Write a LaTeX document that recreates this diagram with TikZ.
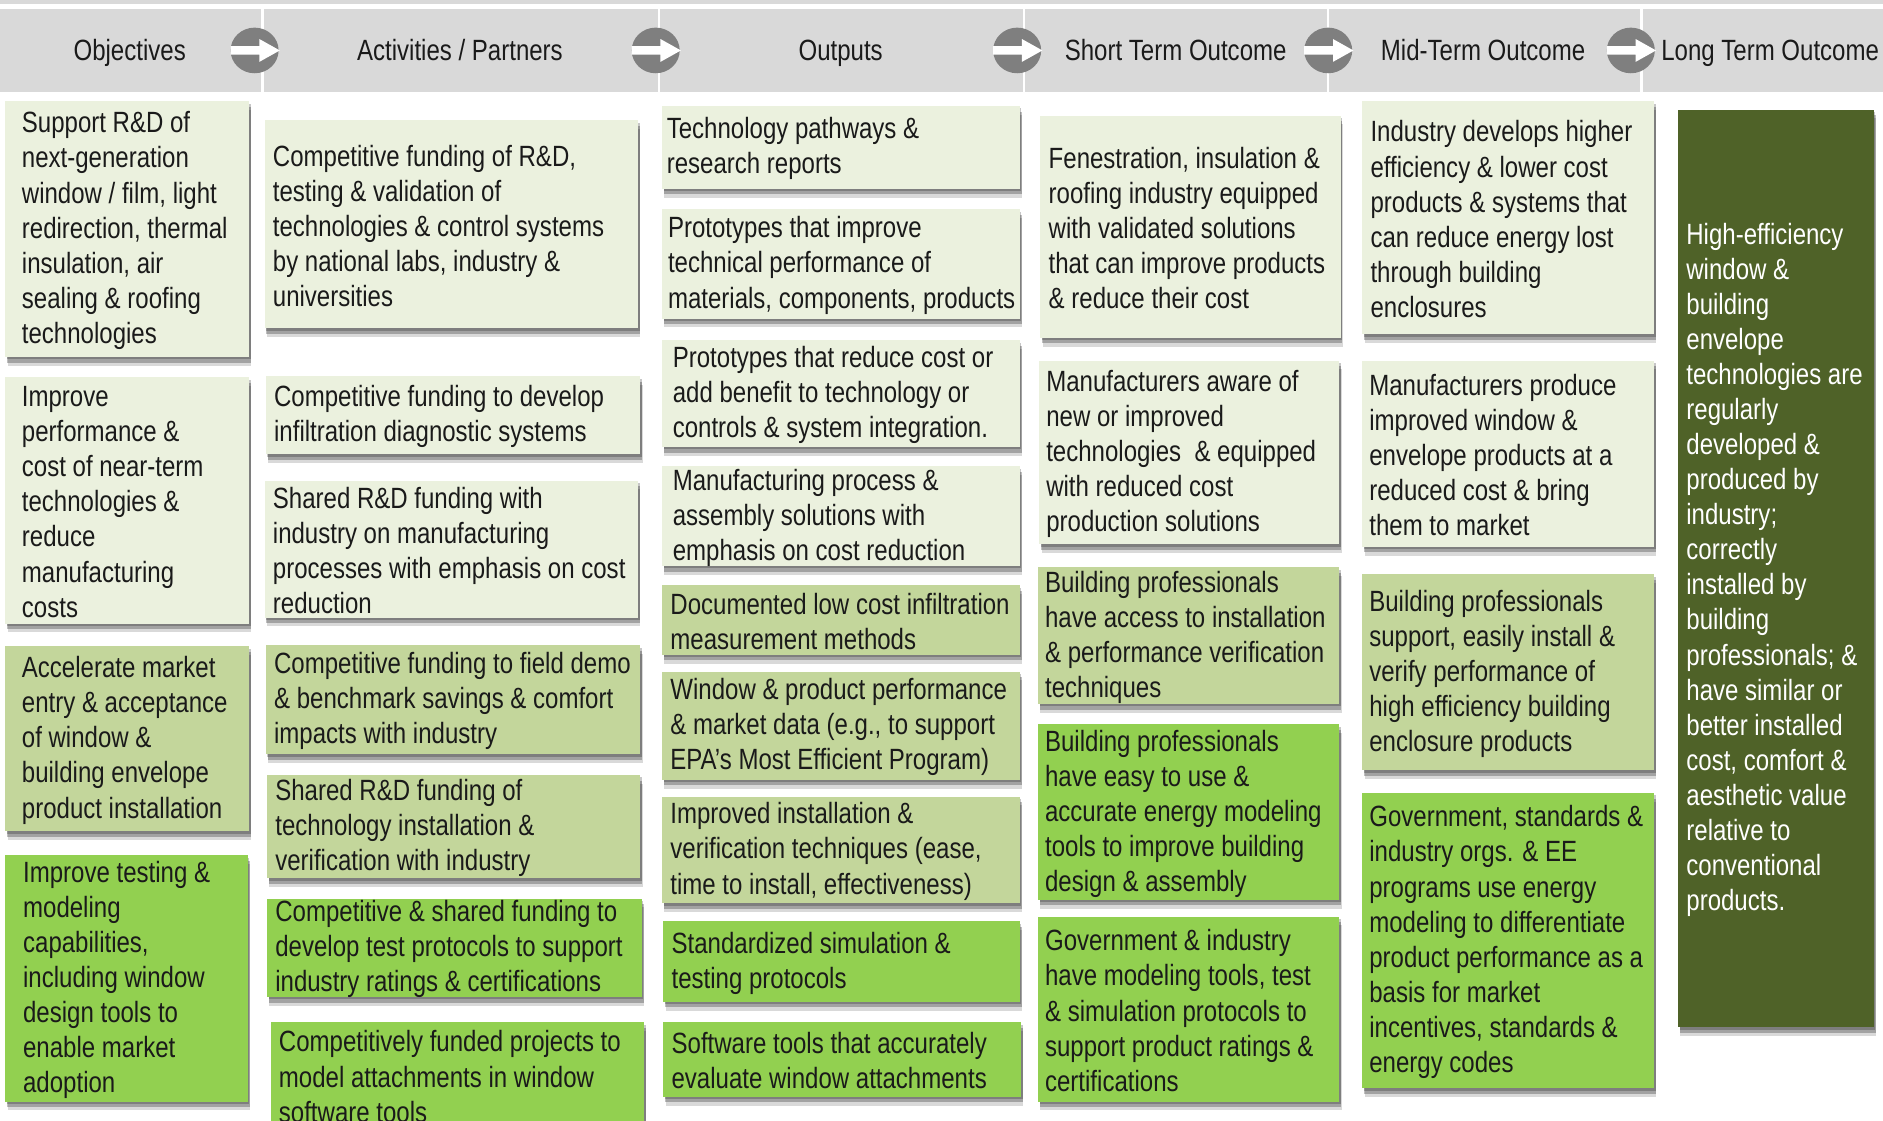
\documentclass[tikz,border=0pt]{standalone}
\usepackage{fontspec}
\setmainfont{Liberation Sans}[FakeStretch=0.82]
\usetikzlibrary{shadows,shapes.geometric}

\definecolor{hdrgray}{HTML}{D9D9D9}
\definecolor{circgray}{HTML}{7F7F7F}
\definecolor{lite}{HTML}{EBF1DE}
\definecolor{midg}{HTML}{C3D69B}
\definecolor{brig}{HTML}{92D050}
\definecolor{darkolive}{HTML}{4F6228}
\definecolor{ink}{HTML}{1A1A1A}

\tikzset{
  card/.style={fill=#1, draw=none, inner sep=0pt, anchor=north west,
    drop shadow={shadow xshift=1pt, shadow yshift=-1.5pt, opacity=.22, fill=black},
    drop shadow={shadow xshift=1.2pt, shadow yshift=-3.5pt, opacity=.25, fill=black},
    drop shadow={shadow xshift=1.5pt, shadow yshift=-5.5pt, opacity=.15, fill=black}},
  cardtext/.style={anchor=west, align=left, inner sep=0pt, text=ink,
    font=\fontsize{18.3}{21.9}\selectfont},
  headcell/.style={fill=hdrgray, draw=none, inner sep=0pt, anchor=north west},
  headtext/.style={inner sep=0pt, text=ink, font=\fontsize{18.3}{21.9}\selectfont},
  flowdot/.style={ellipse, fill=circgray, draw=none, inner sep=0pt,
    minimum width=40*0.75pt, minimum height=38*0.75pt},
}

% [text options]{name}{x1}{y1}{x2}{y2}{fill}{left pad}{lines}
\newcommand\card[9][]{%
  \node[card=#7, minimum width={(#5-#3)*0.75pt}, minimum height={(#6-#4)*0.75pt}] (#2) at (#3,#4) {};
  \node[cardtext,#1] (#2-t) at ([xshift={#8*0.75pt}, yshift=-0.9pt]#2.west) {#9};
}

\begin{document}
\begin{tikzpicture}[x=0.75pt, y=-0.75pt]
\useasboundingbox (0,0) rectangle (1568,933);
\fill[white] (0,0) rectangle (1568,933);

% header strip and column heads
\fill[hdrgray] (0,0) rectangle (1568,3.5);
\node[headcell, minimum width=217*0.75pt, minimum height=69*0.75pt] (h1) at (0,7) {};
\node[headcell, minimum width=328*0.75pt, minimum height=69*0.75pt] (h2) at (219.5,7) {};
\node[headcell, minimum width=302*0.75pt, minimum height=69*0.75pt] (h3) at (549.5,7) {};
\node[headcell, minimum width=251*0.75pt, minimum height=69*0.75pt] (h4) at (853.5,7) {};
\node[headcell, minimum width=259*0.75pt, minimum height=69*0.75pt] (h5) at (1106.5,7) {};
\node[headcell, minimum width=202*0.75pt, minimum height=69*0.75pt] (h6) at (1367.5,7) {};

\node[headtext, anchor=base] (t1) at (108,50) {Objectives};
\node[headtext, anchor=base] (t2) at (383,50) {Activities / Partners};
\node[headtext, anchor=base] (t3) at (700,50) {Outputs};
\node[headtext, anchor=base] (t4) at (979,50) {Short Term Outcome};
\node[headtext, anchor=base] (t5) at (1235,50) {Mid-Term Outcome};
\node[headtext, anchor=base] (t6) at (1474,50) {Long Term Outcome};

% round arrow markers between the heads
\foreach \n/\cx in {a1/212, a2/546, a3/847, a4/1106, a5/1358}{
  \node[flowdot] (\n) at (\cx,42) {};
  \fill[white, shift={(\n.center)}]
    (-20,-3.5) -- (4,-3.5) -- (4,-9.5) -- (21,0) -- (4,9.5) -- (4,3.5) -- (-20,3.5) -- cycle;
}

% Objectives
\card{ob1}{4}{84}{207}{297}{lite}{14}{Support R\&D of\\next-generation\\window / film, light\\redirection, thermal\\insulation, air\\sealing \& roofing\\technologies}
\card{ob2}{4}{314}{207}{519}{lite}{14}{Improve\\performance \&\\cost of near-term\\technologies \&\\reduce\\manufacturing\\costs}
\card{ob3}{4}{538}{207}{692}{midg}{14}{Accelerate market\\entry \& acceptance\\of window \&\\building envelope\\product installation}
\card{ob4}{4}{712}{206}{917}{brig}{15}{Improve testing \&\\modeling\\capabilities,\\including window\\design tools to\\enable market\\adoption}

% Activities / Partners
\card{ac1}{220}{100}{531}{273}{lite}{7}{Competitive funding of R\&D,\\testing \& validation of\\technologies \& control systems\\by national labs, industry \&\\universities}
\card{ac2}{221}{313}{533}{378}{lite}{7}{Competitive funding to develop\\infiltration diagnostic systems}
\card{ac3}{220}{400}{531}{514}{lite}{7}{Shared R\&D funding with\\industry on manufacturing\\processes with emphasis on cost\\reduction}
\card{ac4}{221}{537}{533}{628}{midg}{7}{Competitive funding to field demo\\\& benchmark savings \& comfort\\impacts with industry}
\card{ac5}{222}{645}{533}{731}{midg}{7}{Shared R\&D funding of\\technology installation \&\\verification with industry}
\card{ac6}{222}{748}{534}{830}{brig}{7}{Competitive \& shared funding to\\develop test protocols to support\\industry ratings \& certifications}
\card{ac7}{225}{851}{536}{939}{brig}{7}{Competitively funded projects to\\model attachments in window\\software tools}

% Outputs
\card{ou1}{551}{88}{849}{157}{lite}{4}{Technology pathways \&\\research reports}
\card{ou2}{551}{174}{849}{265}{lite}{5}{Prototypes that improve\\technical performance of\\materials, components, products}
\card{ou3}{551}{283}{849}{372}{lite}{9}{Prototypes that reduce cost or\\add benefit to technology or\\controls \& system integration.}
\card{ou4}{551}{388}{849}{471}{lite}{9}{Manufacturing process \&\\assembly solutions with\\emphasis on cost reduction}
\card{ou5}{551}{487}{849}{545}{midg}{7}{Documented low cost infiltration\\measurement methods}
\card{ou6}{551}{559}{849}{649}{midg}{7}{Window \& product performance\\\& market data (e.g., to support\\EPA’s Most Efficient Program)}
\card{ou7}{551}{663}{849}{752}{midg}{7}{Improved installation \&\\verification techniques (ease,\\time to install, effectiveness)}
\card{ou8}{552}{767}{849}{834}{brig}{7}{Standardized simulation \&\\testing protocols}
\card{ou9}{552}{851}{850}{913}{brig}{7}{Software tools that accurately\\evaluate window attachments}

% Short term outcomes
\card{st1}{866}{96}{1116}{281}{lite}{7}{Fenestration, insulation \&\\roofing industry equipped\\with validated solutions\\that can improve products\\\& reduce their cost}
\card{st2}{865}{300}{1115}{453}{lite}{6}{Manufacturers aware of\\new or improved\\technologies~ \& equipped\\with reduced cost\\production solutions}
\card{st3}{864}{472}{1115}{586}{midg}{6}{Building professionals\\have access to installation\\\& performance verification\\techniques}
\card{st4}{864}{603}{1115}{749}{brig}{6}{Building professionals\\have easy to use \&\\accurate energy modeling\\tools to improve building\\design \& assembly}
\card{st5}{864}{763}{1115}{917}{brig}{6}{Government \& industry\\have modeling tools, test\\\& simulation protocols to\\support product ratings \&\\certifications}

% Mid-term outcomes
\card{mt1}{1134}{84}{1377}{278}{lite}{7}{Industry develops higher\\efficiency \& lower cost\\products \& systems that\\can reduce energy lost\\through building\\enclosures}
\card{mt2}{1134}{300}{1377}{455}{lite}{6}{Manufacturers produce\\improved window \&\\envelope products at a\\reduced cost \& bring\\them to market}
\card{mt3}{1134}{478}{1377}{641}{midg}{6}{Building professionals\\support, easily install \&\\verify performance of\\high efficiency building\\enclosure products}
\card{mt4}{1134}{660}{1377}{906}{brig}{6}{Government, standards \&\\industry orgs. \& EE\\programs use energy\\modeling to differentiate\\product performance as a\\basis for market\\incentives, standards \&\\energy codes}

% Long term outcome
\card[text=white]{lt1}{1397}{91}{1560}{855}{darkolive}{7}{High-efficiency\\window \&\\building\\envelope\\technologies are\\regularly\\developed \&\\produced by\\industry;\\correctly\\installed by\\building\\professionals; \&\\have similar or\\better installed\\cost, comfort \&\\aesthetic value\\relative to\\conventional\\products.}
\end{tikzpicture}
\end{document}
